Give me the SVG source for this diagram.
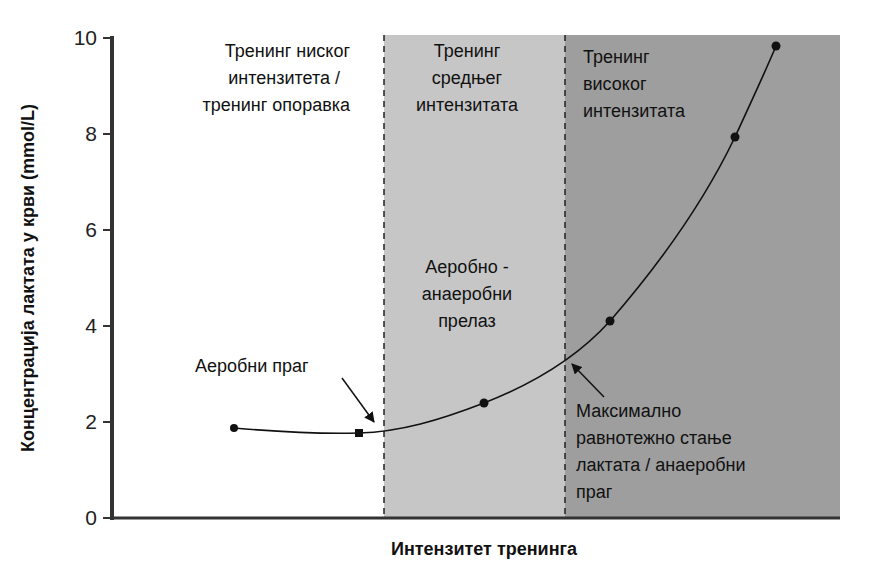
<svg xmlns="http://www.w3.org/2000/svg" width="881" height="568" viewBox="0 0 881 568">
<defs>
<style>
.t{font-family:"Liberation Sans",Arial,sans-serif;font-size:18px;fill:#111}
.n{font-family:"Liberation Sans",Arial,sans-serif;font-size:21px;fill:#222}
.d{stroke:#222;stroke-width:1.5;stroke-dasharray:6,5}
</style>
<marker id="ah" viewBox="0 0 10 10" refX="9" refY="5" markerWidth="7" markerHeight="7" orient="auto"><path d="M0,0L10,5L0,10z" fill="#111"/></marker>
</defs>
<rect width="881" height="568" fill="#fff"/>
<g id="zones">
<rect x="384" y="35" width="181" height="483" fill="#c6c6c6"/>
<rect x="565" y="35" width="275" height="483" fill="#9e9e9e"/>
<line class="d" x1="384" y1="35" x2="384" y2="518"/>
<line class="d" x1="565" y1="35" x2="565" y2="518"/>
</g>
<g id="axes" stroke="#333">
<line x1="112" y1="36" x2="112" y2="520" stroke-width="4"/>
<line x1="110" y1="518" x2="840" y2="518" stroke-width="3"/>
<g stroke-width="2"><line x1="103" y1="38" x2="112" y2="38"/><line x1="103" y1="134" x2="112" y2="134"/><line x1="103" y1="230" x2="112" y2="230"/><line x1="103" y1="326" x2="112" y2="326"/><line x1="103" y1="422" x2="112" y2="422"/><line x1="103" y1="518" x2="112" y2="518"/></g>
</g>
<g id="ticks" class="n" text-anchor="end">
<text x="97" y="45" class="n">10</text><text x="97" y="141" class="n">8</text><text x="97" y="237" class="n">6</text><text x="97" y="333" class="n">4</text><text x="97" y="429" class="n">2</text><text x="97" y="525" class="n">0</text>
</g>
<text class="t" x="0" y="0" transform="translate(34,278) rotate(-90)" text-anchor="middle" font-size="20" font-weight="bold">Концентрација лактата у крви (mmol/L)</text>
<text class="t" x="484" y="555" text-anchor="middle" font-weight="bold" font-size="16">Интензитет тренинга</text>
<g id="curve" fill="none" stroke="#111" stroke-width="1.6">
<path d="M234,428 C280,432 320,434 359,433 C400,432 440,420 484,403 C530,385 575,360 610,321 C650,275 700,210 735,137 C752,100 766,70 776,46"/>
</g>
<g id="points" fill="#111">
<circle cx="234" cy="428" r="4"/><rect x="355" y="429" width="8" height="8"/><circle cx="484" cy="403" r="4.5"/><circle cx="610" cy="321" r="4.5"/><circle cx="735" cy="137" r="4.5"/><circle cx="776" cy="46" r="4.5"/>
</g>
<g id="connectors" stroke="#111" stroke-width="1.5" fill="none">
<line x1="342" y1="378" x2="374" y2="422" marker-end="url(#ah)"/>
<line x1="604" y1="397" x2="572" y2="364" marker-end="url(#ah)"/>
</g>
<g id="labels" class="t" font-size="19">
<text x="350" y="57" text-anchor="end">Тренинг ниског</text>
<text x="340" y="84" text-anchor="end">интензитета /</text>
<text x="350" y="111" text-anchor="end">тренинг опоравка</text>
<text x="467" y="57" text-anchor="middle">Тренинг</text>
<text x="467" y="84" text-anchor="middle">средњег</text>
<text x="467" y="111" text-anchor="middle">интензитата</text>
<text x="583" y="63">Тренинг</text>
<text x="583" y="90">високог</text>
<text x="583" y="117">интензитата</text>
<text x="467" y="273" text-anchor="middle">Аеробно -</text>
<text x="467" y="300" text-anchor="middle">анаеробни</text>
<text x="467" y="327" text-anchor="middle">прелаз</text>
<text x="195" y="372">Аеробни праг</text>
<text x="576" y="417">Максимално</text>
<text x="576" y="444">равнотежно стање</text>
<text x="576" y="471">лактата / анаеробни</text>
<text x="576" y="498">праг</text>
</g>
</svg>
